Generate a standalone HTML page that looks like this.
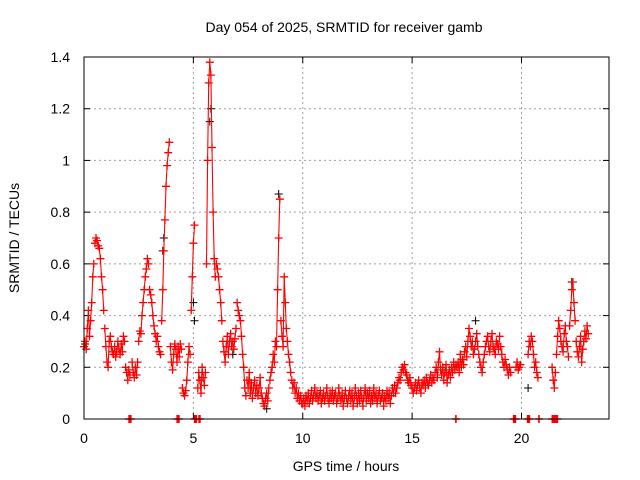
<!DOCTYPE html>
<html><head><meta charset="utf-8"><style>
body{margin:0;background:#fff}
svg{display:block;font-family:"Liberation Sans",sans-serif}
</style></head><body>
<svg id="chart" width="640" height="480" viewBox="0 0 640 480" xmlns="http://www.w3.org/2000/svg">
<rect width="640" height="480" fill="#fff"/>
<text x="344" y="32" font-size="14" text-anchor="middle">Day 054 of 2025, SRMTID for receiver gamb</text>
<text transform="translate(19,238) rotate(-90)" font-size="14" text-anchor="middle">SRMTID / TECUs</text>
<text x="346" y="471" font-size="14" text-anchor="middle">GPS time / hours</text>
<g id="grid"></g>
<g id="ticks"></g>
<g id="black"></g>
<g id="red"></g>
<rect x="84" y="57" width="525" height="362" fill="none" stroke="#000" stroke-width="1"/>
</svg>
<script>
const xTicks=[0,5,10,15,20];
const yTicks=[0,0.2,0.4,0.6,0.8,1,1.2,1.4];
const yTickLabels=["0","0.2","0.4","0.6","0.8","1","1.2","1.4"];
const segStarts=[0.0,0.5,0.95,1.35,1.9,2.2,2.5,3.0,3.55,3.95,4.5,4.9,5.2,5.6,6.05,6.35,7.0,7.45,8.5,9.0,9.5,10.0,14.45,15.05,16.05,17.05,18.05,19.05,19.75,20.3,21.4,21.6,22.2,22.5];
const segValues=[
[0.28,0.30,0.27,0.35,0.42,0.32,0.38,0.45,0.55,0.60],
[0.68,0.70,0.69,0.67,0.66,0.62,0.55,0.50,0.42],
[0.35,0.28,0.22,0.20,0.30,0.32,0.28,0.26],
[0.25,0.28,0.24,0.26,0.30,0.27,0.25,0.29,0.26,0.32,0.30],
[0.20,0.18,0.15,0.19,0.17],
[0.22,0.18,0.16,0.20,0.17,0.22],
[0.30,0.34,0.33,0.40,0.45,0.50,0.55,0.58,0.62,0.60],
[0.50,0.48,0.45,0.40,0.36,0.33,0.30,0.32,0.28,0.26,0.25],
[0.38,0.50,0.65,0.77,0.90,0.98,1.03,1.07],
[0.28,0.22,0.19,0.25,0.29,0.27,0.22,0.28,0.24,0.29,0.27],
[0.12,0.10,0.09,0.11,0.15,0.22,0.28,0.25],
[0.42,0.55,0.68,0.75],
[0.12,0.18,0.15,0.10,0.20,0.16,0.13,0.18],
[0.60,1.00,1.30,1.38,1.33,1.05,0.80,0.62,0.55],
[0.60,0.58,0.55,0.50,0.45,0.38],
[0.30,0.26,0.22,0.28,0.32,0.25,0.30,0.33,0.28,0.30,0.27,0.31,0.35],
[0.45,0.42,0.40,0.38,0.32,0.25,0.20,0.12,0.09],
[0.15,0.12,0.18,0.10,0.14,0.08,0.12,0.15,0.10,0.13,0.09,0.12,0.16,0.10,0.08,0.06,0.05,0.08,0.10,0.07,0.12],
[0.15,0.18,0.20,0.25,0.22,0.30,0.28,0.50,0.70,0.85],
[0.38,0.32,0.28,0.55,0.45,0.35,0.30,0.25,0.22,0.18],
[0.15,0.12,0.14,0.10,0.12,0.08,0.10,0.07,0.09,0.06],
[0.06,0.08,0.05,0.09,0.07,0.10,0.06,0.08,0.11,0.07,0.09,0.12,0.08,0.10,0.07,0.09,0.11,0.06,0.08,0.10,0.07,0.09,0.12,0.08,0.06,0.10,0.08,0.11,0.07,0.09,0.10,0.06,0.08,0.12,0.09,0.07,0.10,0.05,0.08,0.11,0.08,0.06,0.09,0.11,0.07,0.10,0.05,0.08,0.12,0.09,0.06,0.10,0.07,0.11,0.08,0.05,0.09,0.12,0.07,0.10,0.08,0.11,0.06,0.09,0.07,0.12,0.08,0.10,0.06,0.09,0.11,0.07,0.08,0.10,0.05,0.09,0.07,0.11,0.08,0.10,0.06,0.09,0.12,0.10,0.13,0.10,0.12,0.14,0.16],
[0.15,0.18,0.20,0.19,0.21,0.18,0.17,0.15,0.14,0.16,0.13,0.12],
[0.10,0.12,0.14,0.11,0.13,0.15,0.12,0.10,0.14,0.13,0.15,0.12,0.16,0.14,0.13,0.15,0.17,0.14,0.16,0.15],
[0.18,0.20,0.16,0.22,0.26,0.19,0.17,0.20,0.15,0.18,0.21,0.14,0.17,0.19,0.16,0.20,0.18,0.22,0.19,0.21],
[0.20,0.22,0.18,0.25,0.20,0.23,0.21,0.26,0.28,0.24,0.30,0.35,0.32,0.28,0.30,0.25,0.27,0.30,0.33,0.28],
[0.25,0.22,0.20,0.18,0.22,0.25,0.28,0.30,0.32,0.28,0.26,0.30,0.33,0.28,0.27,0.25,0.30,0.29,0.27,0.32],
[0.28,0.25,0.22,0.20,0.23,0.21,0.19,0.17,0.20,0.18],
[0.20,0.22,0.19,0.20,0.21],
[0.25,0.30,0.28,0.32,0.30,0.25,0.20,0.22,0.18,0.16],
[0.20,0.15,0.12,0.18],
[0.25,0.32,0.38,0.35,0.30,0.28,0.26,0.33,0.36,0.30,0.28,0.24],
[0.36,0.42,0.50,0.53,0.45,0.38],
[0.30,0.26,0.24,0.28,0.32,0.22,0.27,0.30,0.34,0.31,0.36,0.33]
];
const zeroHours=[2.06,2.1,2.14,4.26,4.3,4.34,5.06,5.1,5.14,5.26,5.3,17.0,19.64,19.68,19.72,20.28,20.32,20.36,20.8,21.41,21.45,21.49,21.56,21.6,21.64];
const blackHours=[0.05,3.6,3.65,5.0,5.05,5.75,5.8,8.35,8.9,20.3,22.3,6.8,17.9,12.5];
const blackValues=[0.29,0.65,0.70,0.45,0.38,1.15,1.20,0.04,0.87,0.12,0.53,0.25,0.38,0.06];

const X0=84,X1=609,Y0=419,Y1=57,XMAX=24,YMAX=1.4;
const xs=h=>X0+h/XMAX*(X1-X0);
const ys=v=>Y0-v/YMAX*(Y0-Y1);
const NS='http://www.w3.org/2000/svg';
function mk(tag,attrs,parent){const e=document.createElementNS(NS,tag);for(const k in attrs)e.setAttribute(k,attrs[k]);parent.appendChild(e);return e;}
const grid=document.getElementById('grid'),ticks=document.getElementById('ticks');
xTicks.forEach(t=>{
  const x=xs(t);
  if(t>0){const g=mk('line',{x1:x,x2:x,y1:Y1,y2:Y0,stroke:'#a0a0a0','stroke-dasharray':'2,3'},grid);
  
  }
  mk('line',{x1:x,x2:x,y1:Y0,y2:Y0-6,stroke:'#000'},ticks);
  mk('line',{x1:x,x2:x,y1:Y1,y2:Y1+6,stroke:'#000'},ticks);
  const l=mk('text',{x:x,y:443,'font-size':14,'text-anchor':'middle'},ticks);
  l.textContent=String(t);
  
  
});
yTicks.forEach((t,i)=>{
  const y=ys(t);
  if(t>0&&t<YMAX){const g=mk('line',{x1:X0,x2:X1,y1:y,y2:y,stroke:'#a0a0a0','stroke-dasharray':'2,3'},grid);
  
  }
  mk('line',{x1:X0,x2:X0+6,y1:y,y2:y,stroke:'#000'},ticks);
  mk('line',{x1:X1,x2:X1-6,y1:y,y2:y,stroke:'#000'},ticks);
  const l=mk('text',{x:70,y:y+5,'font-size':14,'text-anchor':'end'},ticks);
  l.textContent=yTickLabels[i];
  
  
});
function crosses(hs,vs){let d='';hs.forEach((h,i)=>{const x=+xs(h).toFixed(1),y=+ys(vs[i]).toFixed(1);d+=`M${x-4} ${y}h8M${x} ${y-4}v8`;});return d;}
function plot(gid,hs,vs,color,w){
  const g=document.getElementById(gid);
  const p=mk('path',{d:crosses(hs,vs),stroke:color,'stroke-width':w,fill:'none'},g);
  
  
  return g;
}
plot('black',blackHours,blackValues,'#000',1);
const red=document.getElementById('red');
segStarts.forEach((s,i)=>{
  const hs=segValues[i].map((v,j)=>s+0.05*j);
  const vs=segValues[i];
  const pts=hs.map((h,j)=>xs(h).toFixed(1)+','+ys(vs[j]).toFixed(1)).join(' ');
  const pl=mk('polyline',{points:pts,stroke:'#ff0000','stroke-width':1.1,fill:'none','stroke-linejoin':'round'},red);
  
  
  const p=mk('path',{d:crosses(hs,vs),stroke:'#ff0000','stroke-width':1.3,fill:'none'},red);
  
  
});
const zp=mk('path',{d:crosses(zeroHours,zeroHours.map(()=>0)),stroke:'#ff0000','stroke-width':1.6,fill:'none'},red);


</script>
</body></html>
